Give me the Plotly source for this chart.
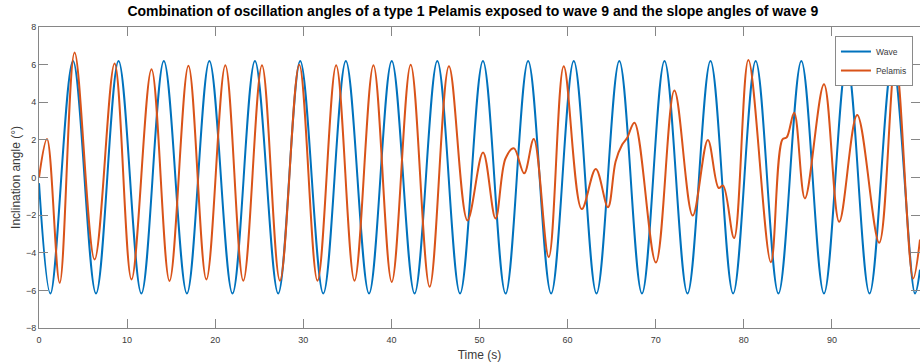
import plotly.graph_objects as go

# ---- data ----
x_ticks = [0, 10, 20, 30, 40, 50, 60, 70, 80, 90, 100]
y_ticks = [-8, -6, -4, -2, 0, 2, 4, 6, 8]

# Wave slope angle: start value and successive extrema (time s, angle deg)
wave_t = [0.00, 1.30, 3.86, 6.47, 9.03, 11.62, 14.17, 16.79, 19.34, 21.96,
          24.51, 27.15, 29.65, 32.27, 34.83, 37.46, 40.04, 42.63, 45.21, 47.79,
          50.39, 52.96, 55.52, 58.13, 60.70, 63.28, 65.87, 68.44, 71.00, 73.61,
          76.22, 78.79, 81.35, 83.93, 86.53, 89.10, 91.70, 94.27, 96.88, 99.43,
          100.00]
wave_v = [-0.30, -6.17, 6.19, -6.17, 6.19, -6.17, 6.19, -6.17, 6.19, -6.17,
          6.19, -6.17, 6.19, -6.17, 6.19, -6.17, 6.19, -6.17, 6.19, -6.17,
          6.19, -6.17, 6.19, -6.17, 6.19, -6.17, 6.19, -6.17, 6.19, -6.17,
          6.19, -6.17, 6.19, -6.17, 6.19, -6.17, 6.19, -6.17, 6.19, -6.17,
          -4.90]

# Pelamis oscillation angle: extrema and shoulder points (time s, angle deg)
pelamis_t = [0.00, 0.91, 2.35, 4.04, 6.31, 8.58, 10.50, 12.77, 14.81, 16.96,
             19.00, 21.15, 23.19, 25.31, 27.35, 29.54, 31.61, 33.73, 35.81, 37.96,
             40.04, 42.19, 44.34, 46.53, 48.63, 50.40, 51.82, 52.95, 53.90, 55.07,
             56.16, 57.86, 59.56, 61.60, 63.20, 64.58, 65.45, 66.20, 66.75, 67.59,
             70.02, 72.12, 74.20, 75.92, 77.15, 77.65, 78.90, 80.52, 83.07, 84.38,
             84.87, 85.72, 86.94, 89.10, 90.83, 92.87, 95.37, 97.21, 99.22, 100.00]
pelamis_v = [0.00, 2.04, -5.60, 6.65, -4.36, 6.06, -5.42, 5.75, -5.50, 5.94,
             -5.42, 5.97, -5.49, 5.97, -5.49, 6.00, -5.49, 5.97, -5.49, 5.97,
             -5.55, 6.00, -5.81, 5.92, -2.28, 1.33, -2.18, 1.01, 1.55, 0.22,
             2.04, -4.23, 5.92, -1.68, 0.45, -1.58, 0.85, 1.75, 2.10, 2.91,
             -4.52, 4.62, -2.02, 2.00, -0.56, -0.43, -3.22, 6.24, -4.50, 2.02,
             2.13, 3.44, -1.11, 4.96, -2.35, 3.32, -3.47, 6.21, -5.37, -3.30]

title_text = ("Combination of oscillation angles of a type 1 Pelamis exposed to "
              "wave 9 and the slope angles of wave 9")

FONT = "Liberation Sans, Arial, Helvetica, sans-serif"
AX_LINE = "#868686"
AX_TEXT = "#3a3a3a"

fig = go.Figure()
fig.add_trace(go.Scatter(
    x=wave_t, y=wave_v, mode="lines", name="Wave",
    line=dict(color="#0072BD", width=2, shape="spline", smoothing=1.0)))
fig.add_trace(go.Scatter(
    x=pelamis_t, y=pelamis_v, mode="lines", name="Pelamis",
    line=dict(color="#D95319", width=2, shape="spline", smoothing=1.0)))

axis_common = dict(
    showgrid=False, zeroline=False, showline=True, linecolor=AX_LINE, linewidth=1,
    ticks="inside", ticklen=9, tickwidth=1, tickcolor=AX_LINE, mirror="ticks",
    tickfont=dict(family=FONT, size=9, color=AX_TEXT), automargin=False,
)

fig.update_layout(
    width=920, height=363,
    margin=dict(l=39, r=0, t=27, b=35, autoexpand=False),
    paper_bgcolor="white", plot_bgcolor="white",
    title=dict(text="<b>" + title_text + "</b>", x=0.514, xanchor="center",
               y=1 - 11 / 363, yanchor="middle", yref="container",
               font=dict(family=FONT, size=14, color="black")),
    xaxis=dict(range=[0, 100], tickvals=x_ticks, ticklabelstandoff=3,
               title=dict(text="Time (s)", standoff=6,
                          font=dict(family=FONT, size=12, color=AX_TEXT)),
               **axis_common),
    yaxis=dict(range=[-8, 8], tickvals=y_ticks,
               title=dict(text="Inclination angle (°)", standoff=2,
                          font=dict(family=FONT, size=12, color=AX_TEXT)),
               **axis_common),
    legend=dict(x=0.992, y=0.97, xanchor="right", yanchor="top",
                bgcolor="white", bordercolor="#8a8a8a", borderwidth=1,
                font=dict(family=FONT, size=8.5, color=AX_TEXT),
                itemwidth=30, tracegroupgap=0),
    showlegend=True,
)

fig.write_html("out.html",
               config={"displayModeBar": False},
               post_script="document.body.style.margin='0';"
                           "document.body.style.overflow='hidden';")
